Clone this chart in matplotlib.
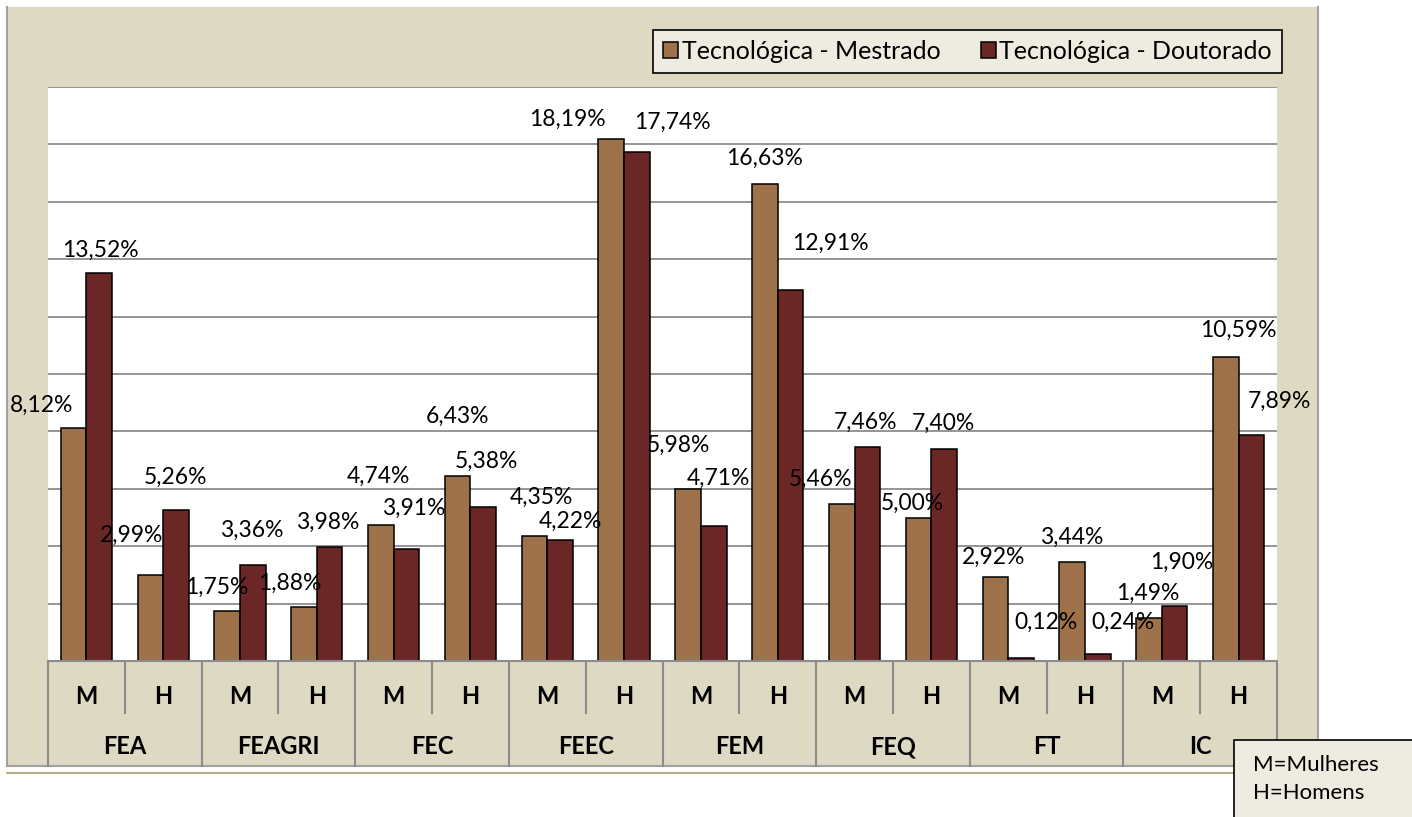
import matplotlib.pyplot as plt
from matplotlib.patches import Rectangle
from matplotlib.lines import Line2D
import numpy as np

plt.rcParams['font.family'] = ['Lato', 'DejaVu Sans']

# dados
faculdades = ["FEA", "FEAGRI", "FEC", "FEEC", "FEM", "FEQ", "FT", "IC"]
sexos = ["M", "H"]
mestrado = [8.12, 2.99, 1.75, 1.88, 4.74, 6.43, 4.35, 18.19,
            5.98, 16.63, 5.46, 5.00, 2.92, 3.44, 1.49, 10.59]
doutorado = [13.52, 5.26, 3.36, 3.98, 3.91, 5.38, 4.22, 17.74,
             4.71, 12.91, 7.46, 7.40, 0.12, 0.24, 1.90, 7.89]

# deslocamento dos rotulos (x em categorias, y em %)
dx_mest = [-0.42, -0.25, -0.13, -0.18, -0.03, 0.0, 0.09, -0.57,
           -0.12, -0.01, -0.27, -0.08, -0.02, -0.01, -0.01, 0.16]
dy_mest = [0.80, 1.40, 0.83, 0.84, 1.71, 2.10, 1.36, 0.70,
           1.55, 0.90, 0.88, 0.50, 0.70, 0.88, 0.88, 0.94]
dx_dout = [0.01, 0.0, -0.02, -0.03, 0.09, 0.04, 0.13, 0.46,
           0.06, 0.52, -0.02, -0.01, 0.32, 0.33, 0.09, 0.36]
dy_dout = [0.80, 1.15, 1.20, 0.86, 1.42, 1.59, 0.63, 1.04,
           1.67, 1.65, 0.84, 0.89, 1.24, 1.12, 1.55, 1.17]

bege = "#DDD9C3"
creme = "#EEECE1"
marrom = "#9D724A"
vinho = "#6B2626"
cinza = "#8C8C8C"

W, H = 1412, 817
fig = plt.figure(figsize=(W / 100, H / 100), dpi=100)
fig.patch.set_facecolor("white")

# moldura do grafico
fig.patches.append(Rectangle((7 / W, 1 - 766 / H), (1318 - 7) / W, (766 - 7) / H,
                             transform=fig.transFigure, facecolor=bege,
                             edgecolor="none", zorder=-5))
for xs, ys in [([7, 7], [7, 766]), ([1318, 1318], [7, 766]), ([7, 1318], [766, 766])]:
    fig.add_artist(Line2D([x / W for x in xs], [1 - y / H for y in ys],
                          color="#A0A0A0", lw=1.5, zorder=-4))
fig.add_artist(Line2D([7 / W, 1234 / W], [1 - 773 / H, 1 - 773 / H],
                      color="#A49A6E", lw=1.2, zorder=-4))

ax = fig.add_axes([48 / W, 1 - 661 / H, (1277 - 48) / W, (661 - 87) / H])
ax.set_facecolor("white")

n = len(mestrado)
x = np.arange(n)
w = 1 / 3
ax.bar(x - w / 2, mestrado, w, color=marrom, edgecolor="black", lw=1.1, zorder=3,
       label="Tecnológica - Mestrado")
ax.bar(x + w / 2, doutorado, w, color=vinho, edgecolor="black", lw=1.1, zorder=3,
       label="Tecnológica - Doutorado")

ax.set_xlim(-0.5, n - 0.5)
ax.set_ylim(0, 20)
ax.set_yticks(np.arange(0, 21, 2))
ax.set_xticks([])
ax.yaxis.grid(True, color=cinza, lw=1.3, zorder=0)
ax.tick_params(axis="y", length=0, labelleft=False)
for s in ax.spines.values():
    s.set_visible(False)


def fmt(v):
    return f"{v:.2f}%".replace(".", ",")


for i in range(n):
    ax.text(x[i] - w / 2 + dx_mest[i], mestrado[i] + dy_mest[i], fmt(mestrado[i]),
            ha="center", va="center", fontsize=16.5, clip_on=False, zorder=5)
    ax.text(x[i] + w / 2 + dx_dout[i], doutorado[i] + dy_dout[i], fmt(doutorado[i]),
            ha="center", va="center", fontsize=16.5, clip_on=False, zorder=5)

# tabela do eixo de categorias
tr = ax.get_xaxis_transform()
y_bot = -105 / 574
y_mid = -52 / 574
ax.plot([-0.5, n - 0.5], [0, 0], color=cinza, lw=1.5, transform=tr, clip_on=False, zorder=4)
for g in range(len(faculdades) + 1):
    xe = -0.5 + 2 * g
    ax.plot([xe, xe], [0, y_bot], color=cinza, lw=1.5, transform=tr, clip_on=False)
for g in range(len(faculdades)):
    xe = 0.5 + 2 * g
    ax.plot([xe, xe], [0, y_mid], color=cinza, lw=1.5, transform=tr, clip_on=False)
    ax.text(2 * g + 0.5, -86 / 574, faculdades[g], ha="center", va="center",
            fontsize=17, fontweight="bold", transform=tr)
    for k, s in enumerate(sexos):
        ax.text(2 * g + k, -35 / 574, s, ha="center", va="center",
                fontsize=17, fontweight="bold", transform=tr)

# legenda
leg = fig.legend(loc="upper right", bbox_to_anchor=(1282 / W, 1 - 30 / H), ncol=2,
                 fontsize=18, frameon=True, fancybox=False, edgecolor="black",
                 facecolor=creme, framealpha=1, handlelength=0.6, handleheight=0.6,
                 handletextpad=0.15, columnspacing=1.6, borderpad=0.4,
                 borderaxespad=0)
leg.get_frame().set_linewidth(1.2)

# nota
fig.patches.append(Rectangle((1234 / W, -0.01), 0.2, (817 - 740) / H + 0.01,
                             transform=fig.transFigure, facecolor=creme,
                             edgecolor="black", lw=1.2, zorder=6))
fig.text(1253 / W, 1 - 765 / H, "M=Mulheres", fontsize=16, va="center", zorder=7)
fig.text(1253 / W, 1 - 793 / H, "H=Homens", fontsize=16, va="center", zorder=7)

fig.savefig("out.png", dpi=100)
